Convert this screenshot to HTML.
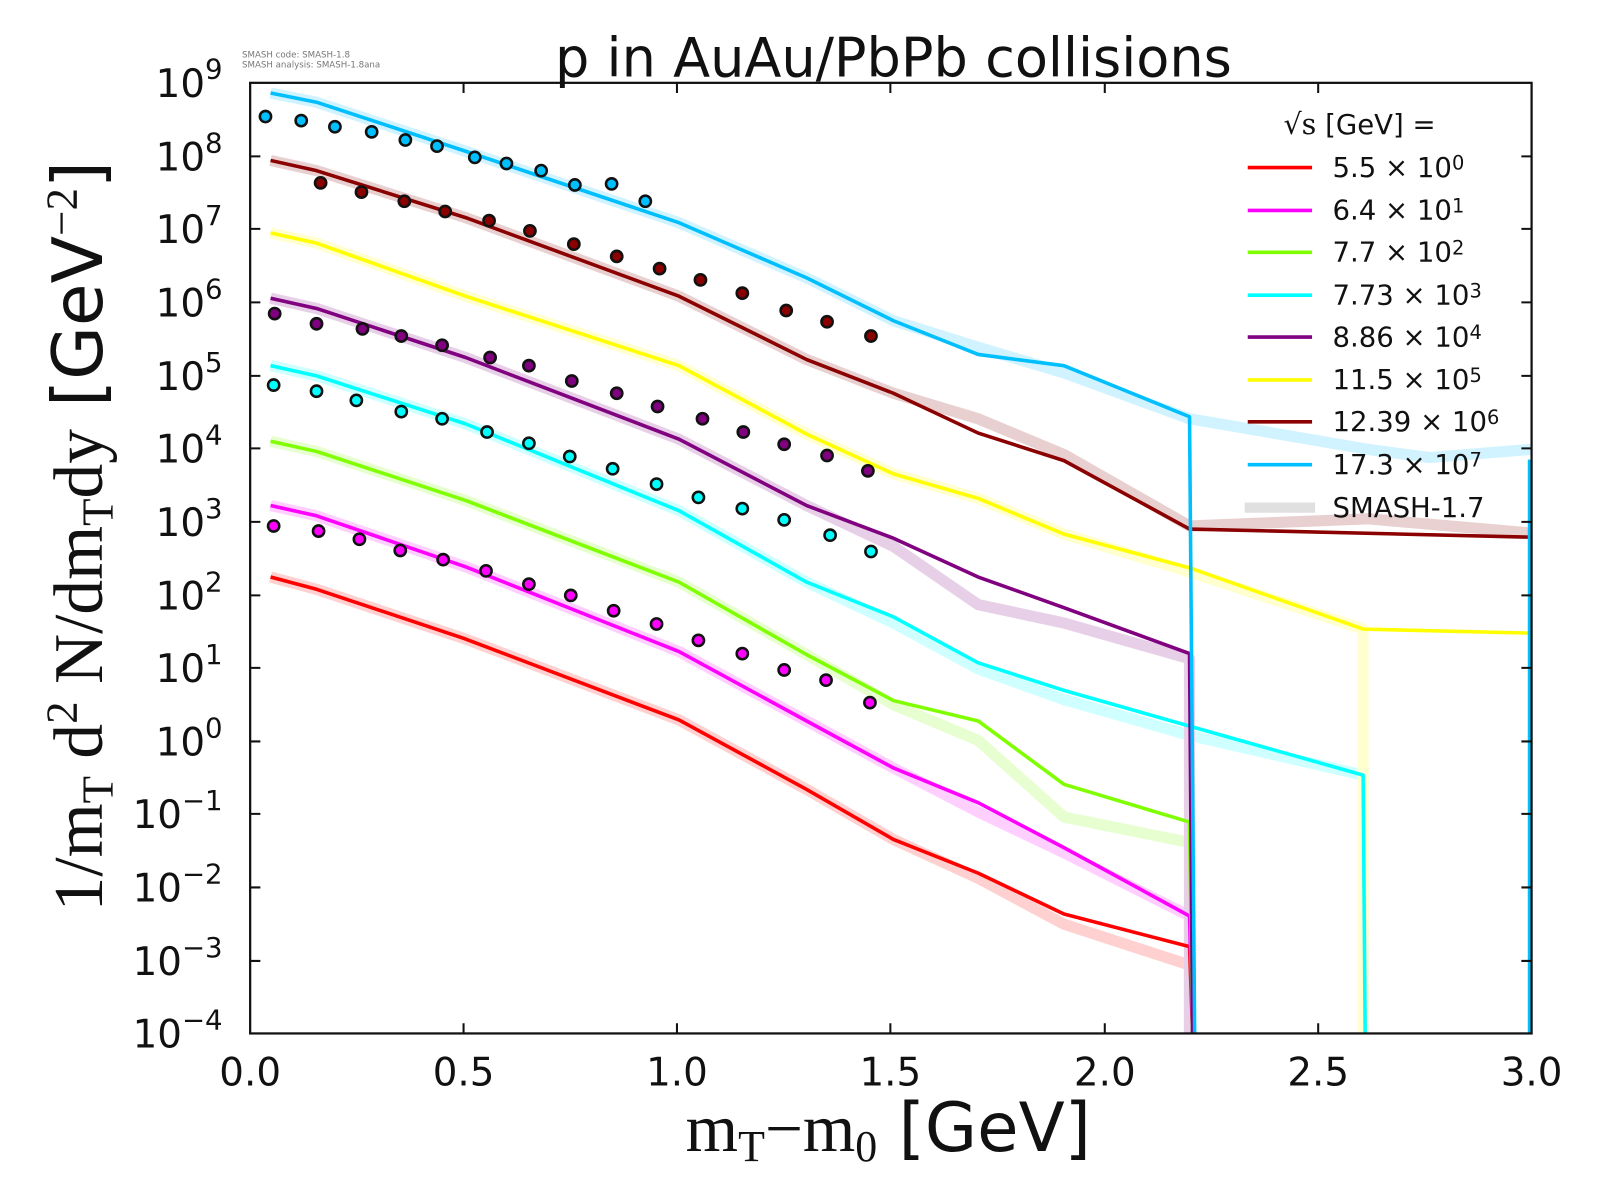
<!DOCTYPE html>
<html><head><meta charset="utf-8"><style>html,body{margin:0;padding:0;background:#fff}svg{display:block}</style></head>
<body>
<svg xmlns="http://www.w3.org/2000/svg" width="1600" height="1200" viewBox="0 0 1567 1175" font-family="'DejaVu Sans','Liberation Sans',sans-serif">
<rect width="1567" height="1175" fill="#fff"/>
<g fill="none" stroke-linejoin="round" stroke-width="11" opacity="0.18">
<polyline stroke="#ff0000" points="265,565 310,577 454,625 665,705 790,773 875,822 958,860 1042,905 1165,945 1165,1012"/>
<polyline stroke="#ff00ff" points="265,495 310,505 456,555 665,638 790,706 875,752 958,795 1042,835 1165,897 1165,1012"/>
<polyline stroke="#7fff00" points="265,432 310,442 456,490 665,570 790,641 875,690 958,725 1042,800 1165,825 1165,1012"/>
<polyline stroke="#00ffff" points="265,358 310,368 456,415 665,500 790,570 875,610 958,655 1042,685 1165,720 1335,759 1335,1012"/>
<polyline stroke="#800080" points="265,292 310,302 456,350 665,430 790,495 875,535 958,592 1042,610 1165,645 1165,1012"/>
<polyline stroke="#ffff00" points="265,228 310,238 456,290 665,358 790,425 875,464 958,488 1042,523 1165,560 1335,616 1335,1012"/>
<polyline stroke="#8b0000" points="265,157 310,167 456,213 665,290 790,352 875,385 958,410 1042,445 1165,515 1340,508 1500,522"/>
<polyline stroke="#00bfff" points="265,91 310,100 456,148 665,218 790,272 875,314 958,340 1042,365 1165,410 1340,440 1400,448 1500,440"/>
</g>
<g fill="none" stroke-linejoin="round" stroke-width="3.5">
<polyline stroke="#ff0000" points="265,565 310,577 454,625 665,705 790,773 875,822 958,855 1042,895 1165,927 1168,1012"/>
<polyline stroke="#ff00ff" points="265,495 310,505 456,555 665,638 790,706 875,752 958,786 1042,830 1165,897 1168,1012"/>
<polyline stroke="#7fff00" points="265,432 310,442 456,490 665,570 790,641 875,686 958,706 1042,768 1165,805 1168,1012"/>
<polyline stroke="#00ffff" points="265,358 310,368 456,415 665,500 790,570 875,604 958,649 1042,676 1165,711 1335,759 1337,1012"/>
<polyline stroke="#800080" points="265,292 310,302 456,350 665,430 790,495 875,527 958,565 1042,595 1165,640 1168,1012"/>
<polyline stroke="#ffff00" points="265,228 310,238 456,290 665,358 790,425 875,464 958,488 1042,523 1165,556 1335,616 1500,620"/>
<polyline stroke="#8b0000" points="265,157 310,167 456,213 665,290 790,352 875,385 958,424 1042,451 1165,518 1500,526"/>
<polyline stroke="#00bfff" points="265,91 310,100 456,148 665,218 790,272 875,314 958,347 1042,358 1165,408 1170,1012"/>
<polyline stroke="#00bfff" points="1498,450 1498,1012"/>
</g>
<g stroke="#111" stroke-width="2.5">
<g fill="#00bfff"><circle cx="260" cy="114" r="5.5"/><circle cx="295" cy="118" r="5.5"/><circle cx="328" cy="124" r="5.5"/><circle cx="364" cy="129" r="5.5"/><circle cx="397" cy="137" r="5.5"/><circle cx="428" cy="143" r="5.5"/><circle cx="465" cy="154" r="5.5"/><circle cx="496" cy="160" r="5.5"/><circle cx="530" cy="167" r="5.5"/><circle cx="563" cy="181" r="5.5"/><circle cx="599" cy="180" r="5.5"/><circle cx="632" cy="197" r="5.5"/></g>
<g fill="#8b0000"><circle cx="314" cy="179" r="5.5"/><circle cx="354" cy="188" r="5.5"/><circle cx="396" cy="197" r="5.5"/><circle cx="436" cy="207" r="5.5"/><circle cx="479" cy="216" r="5.5"/><circle cx="519" cy="226" r="5.5"/><circle cx="562" cy="239" r="5.5"/><circle cx="604" cy="251" r="5.5"/><circle cx="646" cy="263" r="5.5"/><circle cx="686" cy="274" r="5.5"/><circle cx="727" cy="287" r="5.5"/><circle cx="770" cy="304" r="5.5"/><circle cx="810" cy="315" r="5.5"/><circle cx="853" cy="329" r="5.5"/></g>
<g fill="#800080"><circle cx="269" cy="307" r="5.5"/><circle cx="310" cy="317" r="5.5"/><circle cx="355" cy="322" r="5.5"/><circle cx="393" cy="329" r="5.5"/><circle cx="433" cy="338" r="5.5"/><circle cx="480" cy="350" r="5.5"/><circle cx="518" cy="358" r="5.5"/><circle cx="560" cy="373" r="5.5"/><circle cx="604" cy="385" r="5.5"/><circle cx="644" cy="398" r="5.5"/><circle cx="688" cy="410" r="5.5"/><circle cx="728" cy="423" r="5.5"/><circle cx="768" cy="435" r="5.5"/><circle cx="810" cy="446" r="5.5"/><circle cx="850" cy="461" r="5.5"/></g>
<g fill="#00ffff"><circle cx="268" cy="377" r="5.5"/><circle cx="310" cy="383" r="5.5"/><circle cx="349" cy="392" r="5.5"/><circle cx="393" cy="403" r="5.5"/><circle cx="433" cy="410" r="5.5"/><circle cx="477" cy="423" r="5.5"/><circle cx="518" cy="434" r="5.5"/><circle cx="558" cy="447" r="5.5"/><circle cx="600" cy="459" r="5.5"/><circle cx="643" cy="474" r="5.5"/><circle cx="684" cy="487" r="5.5"/><circle cx="727" cy="498" r="5.5"/><circle cx="768" cy="509" r="5.5"/><circle cx="813" cy="524" r="5.5"/><circle cx="853" cy="540" r="5.5"/></g>
<g fill="#ff00ff"><circle cx="268" cy="515" r="5.5"/><circle cx="312" cy="520" r="5.5"/><circle cx="352" cy="528" r="5.5"/><circle cx="392" cy="539" r="5.5"/><circle cx="434" cy="548" r="5.5"/><circle cx="476" cy="559" r="5.5"/><circle cx="518" cy="572" r="5.5"/><circle cx="559" cy="583" r="5.5"/><circle cx="601" cy="598" r="5.5"/><circle cx="643" cy="611" r="5.5"/><circle cx="684" cy="627" r="5.5"/><circle cx="727" cy="640" r="5.5"/><circle cx="768" cy="656" r="5.5"/><circle cx="809" cy="666" r="5.5"/><circle cx="852" cy="688" r="5.5"/></g>
</g>
<rect x="245" y="81" width="1255" height="931" fill="none" stroke="#111" stroke-width="2.2"/>
<g stroke="#111" stroke-width="2">
<path d="M454,1012v-10M663,1012v-10M872,1012v-10M1082,1012v-10M1291,1012v-10M454,81v10M663,81v10M872,81v10M1082,81v10M1291,81v10"/>
<path d="M245,153h10M245,224h10M245,296h10M245,368h10M245,439h10M245,511h10M245,583h10M245,654h10M245,726h10M245,797h10M245,869h10M245,941h10"/>
<path d="M1500,153h-10M1500,224h-10M1500,296h-10M1500,368h-10M1500,439h-10M1500,511h-10M1500,583h-10M1500,654h-10M1500,726h-10M1500,797h-10M1500,869h-10M1500,941h-10"/>
</g>
<g font-size="38" fill="#111" text-anchor="middle">
<text x="245" y="1063">0.0</text><text x="454" y="1063">0.5</text><text x="663" y="1063">1.0</text><text x="872" y="1063">1.5</text><text x="1082" y="1063">2.0</text><text x="1291" y="1063">2.5</text><text x="1500" y="1063">3.0</text>
</g>
<g font-size="38" fill="#111" text-anchor="end">
<text x="218" y="95">10<tspan font-size="27" dy="-18">9</tspan></text>
<text x="218" y="167">10<tspan font-size="27" dy="-18">8</tspan></text>
<text x="218" y="238">10<tspan font-size="27" dy="-18">7</tspan></text>
<text x="218" y="310">10<tspan font-size="27" dy="-18">6</tspan></text>
<text x="218" y="382">10<tspan font-size="27" dy="-18">5</tspan></text>
<text x="218" y="453">10<tspan font-size="27" dy="-18">4</tspan></text>
<text x="218" y="525">10<tspan font-size="27" dy="-18">3</tspan></text>
<text x="218" y="597">10<tspan font-size="27" dy="-18">2</tspan></text>
<text x="218" y="668">10<tspan font-size="27" dy="-18">1</tspan></text>
<text x="218" y="740">10<tspan font-size="27" dy="-18">0</tspan></text>
<text x="218" y="811">10<tspan font-size="27" dy="-18">−1</tspan></text>
<text x="218" y="883">10<tspan font-size="27" dy="-18">−2</tspan></text>
<text x="218" y="955">10<tspan font-size="27" dy="-18">−3</tspan></text>
<text x="218" y="1026">10<tspan font-size="27" dy="-18">−4</tspan></text>
</g>
<text x="875" y="75" font-size="53" text-anchor="middle" fill="#111">p in AuAu/PbPb collisions</text>
<text x="237" y="56" font-size="8.5" fill="#777">SMASH code:      SMASH-1.8</text>
<text x="237" y="66" font-size="8.5" fill="#777">SMASH analysis: SMASH-1.8ana</text>
<text x="870" y="1127" font-size="66" text-anchor="middle" fill="#111"><tspan font-family="'Liberation Serif',serif">m<tspan font-size="43" dy="10">T</tspan><tspan dy="-10">−m</tspan><tspan font-size="43" dy="10">0</tspan></tspan><tspan dy="-10"> [GeV]</tspan></text>
<text transform="translate(100,525) rotate(-90)" font-size="68" text-anchor="middle" fill="#111"><tspan font-family="'Liberation Serif',serif">1/m<tspan font-size="44" dy="10">T</tspan><tspan dy="-10"> d</tspan><tspan font-size="44" dy="-25">2</tspan><tspan dy="25"> N/dm</tspan><tspan font-size="44" dy="10">T</tspan><tspan dy="-10">dy</tspan></tspan> [GeV<tspan font-family="'Liberation Serif',serif" font-size="44" dy="-25">−2</tspan><tspan dy="25">]</tspan></text>
<g font-size="27" fill="#111">
<text x="1257" y="131"><tspan font-family="'DejaVu Serif',serif" font-size="28">√s</tspan>  [GeV] =</text>
<g stroke-width="3.5"><line x1="1222" x2="1285" y1="164" y2="164" stroke="#ff0000"/><line x1="1222" x2="1285" y1="206" y2="206" stroke="#ff00ff"/><line x1="1222" x2="1285" y1="247" y2="247" stroke="#7fff00"/><line x1="1222" x2="1285" y1="289" y2="289" stroke="#00ffff"/><line x1="1222" x2="1285" y1="330" y2="330" stroke="#800080"/><line x1="1222" x2="1285" y1="372" y2="372" stroke="#ffff00"/><line x1="1222" x2="1285" y1="413" y2="413" stroke="#8b0000"/><line x1="1222" x2="1285" y1="455" y2="455" stroke="#00bfff"/><line x1="1219" x2="1288" y1="497" y2="497" stroke="#e0e0e0" stroke-width="10"/></g>
<text x="1305" y="173">5.5 × 10<tspan font-size="19" dy="-7">0</tspan></text>
<text x="1305" y="215">6.4 × 10<tspan font-size="19" dy="-7">1</tspan></text>
<text x="1305" y="256">7.7 × 10<tspan font-size="19" dy="-7">2</tspan></text>
<text x="1305" y="298">7.73 × 10<tspan font-size="19" dy="-7">3</tspan></text>
<text x="1305" y="339">8.86 × 10<tspan font-size="19" dy="-7">4</tspan></text>
<text x="1305" y="381">11.5 × 10<tspan font-size="19" dy="-7">5</tspan></text>
<text x="1305" y="422">12.39 × 10<tspan font-size="19" dy="-7">6</tspan></text>
<text x="1305" y="464">17.3 × 10<tspan font-size="19" dy="-7">7</tspan></text>
<text x="1305" y="506">SMASH-1.7</text>
</g>
</svg>
</body></html>
